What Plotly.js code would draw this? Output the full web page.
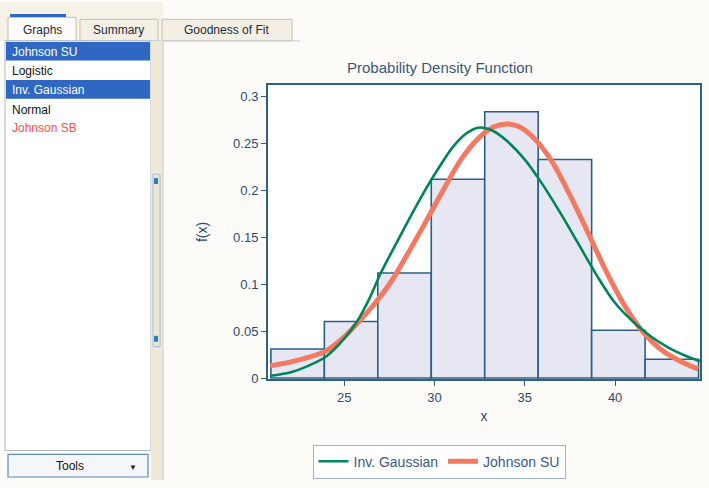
<!DOCTYPE html>
<html>
<head>
<meta charset="utf-8">
<script src="https://cdn.plot.ly/plotly-3.0.1.min.js"></script>
<style>html,body{margin:0;padding:0;background:#fdfbf7;}#chart{width:709px;height:488px;}</style>
</head>
<body>
<div id="chart"></div>
<script>
// ---- data ----
const binEdges = [20.94, 23.90, 26.86, 29.82, 32.78, 35.74, 38.70, 41.66, 44.62];
const binHeights = [0.031, 0.0603, 0.112, 0.212, 0.284, 0.233, 0.051, 0.020];

const invGaussX = [20.9, 22.0, 23.0, 24.0, 25.0, 25.7, 26.4, 27.0, 28.0, 29.0, 30.0, 31.0, 31.7, 32.4, 33.2, 34.0, 35.0, 36.0, 37.0, 38.0, 39.0, 40.0, 41.0, 42.0, 43.0, 44.0, 44.7];
const invGaussY = [0.0025, 0.006, 0.013, 0.023, 0.042, 0.060, 0.085, 0.111, 0.148, 0.184, 0.217, 0.246, 0.260, 0.267, 0.264, 0.253, 0.233, 0.206, 0.175, 0.142, 0.109, 0.080, 0.060, 0.044, 0.032, 0.023, 0.018];

const johnsonX = [20.9, 22.0, 23.0, 24.0, 25.0, 25.7, 26.5, 27.5, 28.5, 29.5, 30.5, 31.5, 32.5, 33.3, 34.0, 34.7, 35.5, 36.5, 37.5, 38.5, 39.5, 40.5, 41.5, 42.5, 43.5, 44.6];
const johnsonY = [0.013, 0.017, 0.022, 0.029, 0.044, 0.058, 0.075, 0.100, 0.132, 0.166, 0.201, 0.234, 0.257, 0.268, 0.271, 0.268, 0.256, 0.231, 0.195, 0.155, 0.114, 0.078, 0.050, 0.031, 0.019, 0.0095];

const yTickVals = [0, 0.05, 0.1, 0.15, 0.2, 0.25, 0.3];
const yTickText = ['0', '0.05', '0.1', '0.15', '0.2', '0.25', '0.3'];
const xTickVals = [25, 30, 35, 40];

const tabLabels = ['Graphs', 'Summary', 'Goodness of Fit'];
const listItems = ['Johnson SU', 'Logistic', 'Inv. Gaussian', 'Normal', 'Johnson SB'];
const selectedItems = [true, false, true, false, false];

// ---- geometry helpers (pixel -> paper) ----
const W = 709, H = 488;
const M = {l: 268, r: 9, t: 85, b: 103};
const PW = W - M.l - M.r, PH = H - M.t - M.b;
const P = x => (x - M.l) / PW;
const Q = y => (H - M.b - y) / PH;

const centers = binHeights.map((_, i) => (binEdges[i] + binEdges[i + 1]) / 2);
const widths = binHeights.map((_, i) => binEdges[i + 1] - binEdges[i]);

const FONT = 'Liberation Sans, Arial, sans-serif';
const AX = '#2f6183';
const TXT = '#2c4a72';

const histTrace = {type: 'bar', x: centers, y: binHeights, width: widths, showlegend: false, hoverinfo: 'skip',
   marker: {color: '#e7e7f3', line: {color: '#2d5f86', width: 1.6}}};
const igTrace = {type: 'scatter', mode: 'lines', name: 'Inv. Gaussian', x: invGaussX, y: invGaussY, legendrank: 1,
   line: {color: '#00855a', width: 2.6, shape: 'spline', smoothing: 0.9}};
const jsuTrace = {type: 'scatter', mode: 'lines', name: 'Johnson SU', x: johnsonX, y: johnsonY, legendrank: 2,
   line: {color: '#f27a62', width: 5, shape: 'spline', smoothing: 0.9}};
const ordered = [histTrace, jsuTrace, igTrace];

const shapes = [];
const annotations = [];
function rect(x0, y0, x1, y1, fill, line, lw) {
  shapes.push({type: 'rect', xref: 'paper', yref: 'paper', x0: P(x0), x1: P(x1), y0: Q(y1), y1: Q(y0),
    fillcolor: fill, line: {color: line || 'rgba(0,0,0,0)', width: lw === undefined ? 1 : lw}});
}
function line(x0, y0, x1, y1, color, lw) {
  shapes.push({type: 'line', xref: 'paper', yref: 'paper', x0: P(x0), x1: P(x1), y0: Q(y0), y1: Q(y1),
    line: {color: color, width: lw || 1}});
}
function text(x, y, s, opts) {
  opts = opts || {};
  annotations.push({xref: 'paper', yref: 'paper', x: P(x), y: Q(y), text: s, showarrow: false,
    xanchor: opts.anchor || 'left', yanchor: 'middle',
    font: {family: FONT, size: opts.size || 12, color: opts.color || '#111'}});
}

// tab strip
rect(0, 0, 163, 40, '#f6f2e8', null, 0);
rect(8, 16, 76, 40, '#fdfbf7', '#c9c1b0', 1);
rect(80, 18, 158, 40, '#f3efe4', '#c9c1b0', 1);
rect(162, 18, 292, 40, '#f3efe4', '#c9c1b0', 1);
line(10, 14, 66, 14, '#2f68c4', 3);
line(5, 40, 300, 40, '#c5ccd4', 1);
text(42, 29, tabLabels[0], {anchor: 'center', color: '#1c2c3c'});
text(118, 29, tabLabels[1], {anchor: 'center', color: '#1c2c3c'});
text(226, 29, tabLabels[2], {anchor: 'center', color: '#1c2c3c'});

// left list box
rect(5, 40, 151, 458, '#ffffff', '#a9b9c9', 1);
const rowY = [51, 71, 90, 110, 129];
listItems.forEach((s, i) => {
  if (selectedItems[i]) rect(6, rowY[i] - 10, 150, rowY[i] + 9, '#2f67c2', null, 0);
  text(10, rowY[i], s, {color: selectedItems[i] ? '#ffffff' : (i === 4 ? '#ff4b4b' : '#111111')});
});

// splitter
rect(151, 40, 163, 488, '#efe8d6', null, 0);
rect(153, 176, 160, 352, '#e9e6dc', '#a8c0d4', 1);
rect(154, 180, 158, 186, '#2f7ac0', null, 0);
rect(154, 341, 158, 347, '#2f7ac0', null, 0);
line(163, 40, 163, 488, '#c3cbd3', 1);

// tools button
rect(8, 462, 148, 485, '#f4f6f9', '#5d8cb4', 1.2);
text(70, 474, 'Tools', {anchor: 'center', color: '#111'});
text(133, 475, '▼', {anchor: 'center', size: 8, color: '#222'});

const layout = {
  width: W, height: H,
  margin: M,
  paper_bgcolor: '#fdfbf7',
  plot_bgcolor: '#ffffff',
  font: {family: FONT, color: TXT, size: 13},
  title: {text: 'Probability Density Function', x: P(440), xanchor: 'center', xref: 'paper',
          y: 1 - 68 / H, yanchor: 'middle', font: {family: FONT, size: 15, color: '#3a5878'}},
  xaxis: {range: [20.78, 44.7], tickvals: xTickVals, ticks: 'outside', ticklen: 5, tickcolor: AX,
          showline: true, linecolor: AX, linewidth: 2, mirror: true, showgrid: false, zeroline: false,
          tickfont: {size: 13, color: TXT}, title: {text: 'x', font: {size: 14, color: TXT}, standoff: 8}},
  yaxis: {range: [-0.001, 0.3125], tickvals: yTickVals, ticktext: yTickText, ticks: 'outside', ticklen: 5,
          tickcolor: AX, showline: true, linecolor: AX, linewidth: 2, mirror: true, showgrid: false,
          zeroline: false, tickfont: {size: 13, color: TXT},
          title: {text: 'f(x)', font: {size: 14, color: TXT}, standoff: 22}},
  bargap: 0,
  showlegend: true,
  legend: {orientation: 'h', x: P(439), xanchor: 'center', y: Q(452), yanchor: 'top',
           bordercolor: '#9fb3c8', borderwidth: 1, bgcolor: '#ffffff',
           font: {family: FONT, size: 14, color: '#3a5a86'}, traceorder: 'normal'},
  shapes: shapes,
  annotations: annotations
};

Plotly.newPlot('chart', ordered, layout, {displayModeBar: false, staticPlot: true});
</script>
</body>
</html>
